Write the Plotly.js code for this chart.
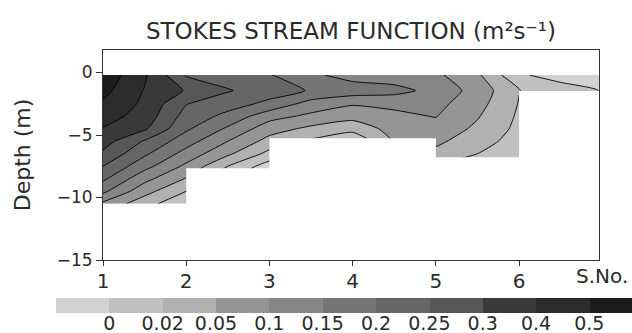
<!DOCTYPE html>
<html>
<head>
<meta charset="utf-8">
<script src="https://cdn.plot.ly/plotly-3.0.1.min.js"></script>
<style>
  html, body { margin: 0; padding: 0; background: #fff; }
  #chart { width: 632px; height: 333px; }
</style>
</head>
<body>
<div id="chart"></div>
<script>
// Station positions (S.No.) and depths of the stream-function grid
const stations = [1, 1.5, 2, 2.5, 3, 3.5, 4, 4.5, 5, 5.5, 6, 6.5, 7];
const depths = [-0.2, -1.45, -2.5, -3.5, -4.5, -5.5, -6.5, -7.5, -8.5, -9.5, -10.5];

// Stokes stream function (m^2 s^-1), one row per depth, one column per station
const psi = [
  [0.570, 0.414, 0.245, 0.225, 0.203, 0.160, 0.130, 0.120, 0.110, 0.058, 0.003, -0.009, -0.012],
  [0.530, 0.394, 0.296, 0.254, 0.223, 0.196, 0.178, 0.168, 0.133, 0.080, 0.021, 0.010, -0.001],
  [0.486, 0.380, 0.252, 0.221, 0.188, 0.130, 0.105, 0.110, 0.115, 0.068, 0.019, 0.008, -0.002],
  [0.441, 0.360, 0.230, 0.186, 0.118, 0.089, 0.067, 0.090, 0.102, 0.054, 0.017, 0.006, -0.002],
  [0.395, 0.315, 0.208, 0.142, 0.072, 0.043, 0.030, 0.070, 0.082, 0.044, 0.015, 0.005, -0.002],
  [0.342, 0.245, 0.172, 0.100, 0.039, 0.017, 0.003, 0.052, 0.061, 0.032, 0.012, 0.004, -0.002],
  [0.292, 0.209, 0.131, 0.059, 0.014, -0.006, -0.010, 0.035, 0.041, 0.020, 0.009, 0.003, -0.002],
  [0.250, 0.167, 0.089, 0.020, -0.010, -0.016, -0.016, 0.020, 0.017, 0.008, 0.006, 0.002, -0.002],
  [0.210, 0.115, 0.048, 0.003, -0.020, -0.020, -0.020, 0.010, 0.010, 0.004, 0.004, 0.001, -0.002],
  [0.161, 0.068, 0.020, -0.010, -0.026, -0.026, -0.026, -0.001, 0.004, 0.002, 0.002, -0.001, -0.002],
  [0.089, 0.032, 0.003, -0.020, -0.030, -0.030, -0.030, -0.010, -0.001, -0.001, -0.001, -0.001, -0.002]
];

// Contour levels and the grey shade of each band (below first level ... above last level)
const levels = [0, 0.02, 0.05, 0.1, 0.15, 0.2, 0.25, 0.3, 0.4, 0.5];
const shades = ['#d2d2d2', '#c0c0c0', '#b1b1b1', '#959595', '#868686', '#757575',
                '#666666', '#575757', '#393939', '#2b2b2b', '#1c1c1c'];

// Sea bed: depth of the section between consecutive stations
const bedStations = [1, 2, 3, 4, 5, 6, 7];
const bedDepth = [-10.5, -7.66, -5.25, -5.25, -6.77, -1.47];

const stationTicks = [1, 2, 3, 4, 5, 6];

// Levels are unevenly spaced, so values are mapped onto a level-index scale
// (level k -> k) where contour spacing becomes uniform.
function toLevelIndex(v) {
  const n = levels.length;
  if (v <= levels[0]) return (v - levels[0]) / (levels[1] - levels[0]);
  for (let i = 0; i < n - 1; i++) {
    if (v <= levels[i + 1]) return i + (v - levels[i]) / (levels[i + 1] - levels[i]);
  }
  return (n - 1) + (v - levels[n - 1]) / (levels[n - 1] - levels[n - 2]);
}

const yAsc = depths.slice().reverse();
const zAsc = psi.slice().reverse().map(row => row.map(toLevelIndex));
const bandScale = shades.map((c, i) => [i / (shades.length - 1), c]);

// White sea-bed polygon built from the stepped bathymetry
const bedX = [bedStations[0]];
const bedY = [-15];
bedDepth.forEach((d, i) => {
  bedX.push(bedStations[i], bedStations[i + 1]);
  bedY.push(d, d);
});
bedX.push(bedStations[bedStations.length - 1]);
bedY.push(-15);

const FONT = 'DejaVu Sans, Liberation Sans, sans-serif';
const INK = '#2a2a2a';

const traces = [
  {
    type: 'contour',
    x: stations,
    y: yAsc,
    z: zAsc,
    contours: { start: 0, end: levels.length - 1, size: 1, coloring: 'fill', showlines: true },
    colorscale: bandScale,
    line: { color: '#000', width: 0.9, smoothing: 0.5 },
    showscale: false,
    hoverinfo: 'skip'
  },
  {
    type: 'scatter',
    mode: 'lines',
    x: bedX,
    y: bedY,
    fill: 'toself',
    fillcolor: '#ffffff',
    line: { width: 0, color: '#ffffff' },
    hoverinfo: 'skip',
    showlegend: false
  },
  {
    type: 'heatmap',
    x: shades.map((_, i) => i),
    y: [0.5],
    z: [shades.map((_, i) => i)],
    zmin: 0,
    zmax: shades.length - 1,
    colorscale: bandScale,
    showscale: false,
    xaxis: 'x2',
    yaxis: 'y2',
    hoverinfo: 'skip'
  }
];

const layout = {
  width: 632,
  height: 333,
  margin: { l: 56, r: 0, t: 50, b: 20 },
  paper_bgcolor: '#ffffff',
  plot_bgcolor: '#ffffff',
  showlegend: false,
  font: { family: FONT, color: INK },
  title: {
    text: 'STOKES STREAM FUNCTION (m²s⁻¹)',
    font: { family: FONT, size: 23, color: INK },
    xref: 'paper', x: 0.512, xanchor: 'center',
    yref: 'container', y: 0.907, yanchor: 'middle'
  },
  xaxis: {
    domain: [0.0816, 0.9427],
    range: [1, 6.96],
    tickmode: 'array',
    tickvals: stationTicks,
    ticktext: stationTicks.map(String),
    ticks: 'outside', ticklen: 5, tickwidth: 1, tickcolor: '#333',
    ticklabelstandoff: -2,
    tickfont: { family: FONT, size: 20, color: INK },
    showline: true, linecolor: '#333', linewidth: 1, mirror: true,
    showgrid: false, zeroline: false
  },
  yaxis: {
    domain: [0.2015, 1],
    range: [-15, 1.8],
    dtick: 5, tick0: 0,
    ticks: 'outside', ticklen: 6, tickwidth: 1, tickcolor: '#333',
    tickfont: { family: FONT, size: 17, color: INK },
    showline: true, linecolor: '#333', linewidth: 1, mirror: true,
    showgrid: false, zeroline: false,
    title: { text: 'Depth (m)', font: { family: FONT, size: 22, color: INK }, standoff: 20 }
  },
  xaxis2: {
    anchor: 'y2',
    domain: [0, 1],
    range: [-0.5, 10.3],
    tickmode: 'array',
    tickvals: levels.map((_, i) => i + 0.5),
    ticktext: levels.map(String),
    ticks: '',
    ticklabelstandoff: -3,
    tickfont: { family: FONT, size: 19, color: INK },
    showline: false, showgrid: false, zeroline: false
  },
  yaxis2: {
    anchor: 'x2',
    domain: [0, 0.057],
    range: [0, 1],
    showticklabels: false, ticks: '',
    showline: false, showgrid: false, zeroline: false
  },
  annotations: [
    {
      text: 'S.No.',
      xref: 'paper', x: 0.997, xanchor: 'right',
      yref: 'paper', y: 0.142, yanchor: 'middle',
      showarrow: false,
      font: { family: FONT, size: 20, color: INK }
    }
  ]
};

Plotly.newPlot('chart', traces, layout, { staticPlot: true, displayModeBar: false });
</script>
</body>
</html>
